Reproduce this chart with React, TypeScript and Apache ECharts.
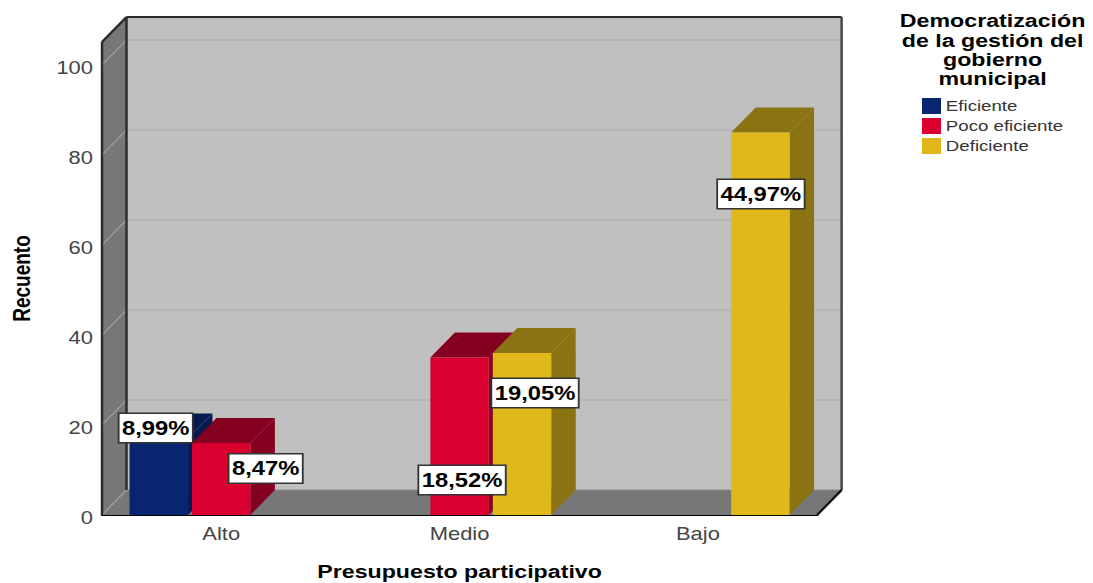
import React, { useEffect, useRef } from "react";
import * as echarts from "echarts";

const categories = ["Alto", "Medio", "Bajo"];
const seriesNames = ["Eficiente", "Poco eficiente", "Deficiente"];
const eficiente = [17, null, null];
const pocoEficiente = [16, 35, null];
const deficiente = [null, 36, 85];
const eficienteLabels = ["8,99%", "", ""];
const pocoEficienteLabels = ["8,47%", "18,52%", ""];
const deficienteLabels = ["", "19,05%", "44,97%"];
const yTicks = [0, 20, 40, 60, 80, 100];
const yTitle = "Recuento";
const xTitle = "Presupuesto participativo";
const legendTitle = "Democratización\nde la gestión del\ngobierno\nmunicipal";

const front = ["#07266f", "#d90030", "#e0b81c"];
const side = ["#041a50", "#850020", "#8a7312"];
const FONT = "'Liberation Sans', Arial, sans-serif";

// The reference is a horizontally stretched picture, so the chart is drawn narrower and stretched.
const S = 1.22;
const W = 1093 / S;
const px = (x: number) => x / S;
const DX = px(24.5);
const DY = 25;
const GRID = { left: px(102), right: W - px(817), top: 42, bottom: 583 - 515, outerBoundsMode: "none" };
const SLOT = 0.262;
const BAR = 0.245;

// label box centre relative to the bar's top centre, on screen [dx, dy]
const labelShift = [
  [[-3, -10.5], null, null],
  [[44.5, 25.5], [2.5, 122.5], null],
  [null, [13, 40], [0.5, 61.5]],
];

function renderWall(params: any, api: any) {
  const c = params.coordSys;
  const x0 = c.x, x1 = c.x + c.width, yTop = c.y;
  const y0 = api.coord([0, 0])[1];
  const dark = "#2a2a2a";
  const poly = (points: number[][], fill: string) => ({ type: "polygon", shape: { points }, style: { fill, stroke: "none" } });
  const line = (a: number[], b: number[], stroke: string, lineWidth: number) => ({
    type: "line",
    shape: { x1: a[0], y1: a[1], x2: b[0], y2: b[1] },
    style: { stroke, lineWidth },
  });
  const children: any[] = [
    poly([[x0 + DX, yTop - DY], [x1 + DX, yTop - DY], [x1 + DX, y0 - DY], [x0 + DX, y0 - DY]], "#c0c0c0"),
    poly([[x0, yTop], [x0 + DX, yTop - DY], [x0 + DX, y0 - DY], [x0, y0]], "#777777"),
    poly([[x0, y0], [x0 + DX, y0 - DY], [x1 + DX, y0 - DY], [x1, y0]], "#777777"),
  ];
  yTicks.forEach((t) => {
    const y = api.coord([0, t])[1];
    if (t > 0) children.push(line([x0 + DX, y - DY], [x1 + DX, y - DY], "#b2b2b2", 1.5));
    children.push(line([x0, y], [x0 + DX, y - DY], "#a6a6a6", 1));
  });
  children.push(
    line([x0 + DX, y0 - DY], [x1 + DX, y0 - DY], "#8a8a8a", 1),
    line([x0, yTop], [x0, y0], dark, 2),
    line([x0, yTop], [x0 + DX, yTop - DY], dark, 2),
    line([x0 + DX, yTop - DY], [x0 + DX, y0 - DY], dark, 2),
    line([x0 + DX, yTop - DY], [x1 + DX, yTop - DY], dark, 2),
    line([x1 + DX, yTop - DY], [x1 + DX, y0 - DY], "#444444", 2),
    line([x1, y0], [x1 + DX, y0 - DY], "#111111", 2),
  );
  return { type: "group", children };
}

function barCentre(api: any, s: number, cat: number, value: number) {
  const band = api.size([1, 0])[0];
  const p = api.coord([cat, value]);
  return { x: p[0] + (s - 1) * SLOT * band, y: p[1], w: BAR * band, base: api.coord([cat, 0])[1] };
}

const renderBar = (s: number) => (_: any, api: any) => {
  const b = barCentre(api, s, api.value(0), api.value(1));
  const l = b.x - b.w / 2, r = b.x + b.w / 2;
  return {
    type: "group",
    children: [
      { type: "polygon", shape: { points: [[r, b.y], [r + DX, b.y - DY], [r + DX, b.base - DY], [r, b.base]] }, style: { fill: side[s] } },
      { type: "polygon", shape: { points: [[l, b.y], [l + DX, b.y - DY], [r + DX, b.y - DY], [r, b.y]] }, style: { fill: side[s] } },
      { type: "rect", shape: { x: l, y: b.y, width: b.w, height: b.base - b.y }, style: { fill: front[s] } },
    ],
  };
};

function renderLabel(_: any, api: any) {
  const s = api.value(2), cat = api.value(0);
  const b = barCentre(api, s, cat, api.value(1));
  const shift = (labelShift[s][cat] as number[]) || [0, 0];
  return {
    type: "text",
    x: b.x + px(shift[0]),
    y: b.y + shift[1],
    style: {
      text: allLabels[s][cat],
      fill: "#000",
      font: `bold 19.5px ${FONT}`,
      align: "center",
      verticalAlign: "middle",
      backgroundColor: "#fff",
      borderColor: "#333",
      borderWidth: 1.5,
      padding: [4, 2, 4, 2],
    },
  };
}

const allValues = [eficiente, pocoEficiente, deficiente];
const allLabels = [eficienteLabels, pocoEficienteLabels, deficienteLabels];
const rows = (values: (number | null)[]) =>
  values.map((v, i) => (v === null ? null : [i, v])).filter(Boolean);

export default function App() {
  const ref = useRef<HTMLDivElement>(null);
  useEffect(() => {
    const chart = echarts.init(ref.current!, undefined, { renderer: "svg" });
    const labelRows: any[] = [];
    allValues.forEach((vals, s) =>
      vals.forEach((v, i) => {
        if (v !== null) labelRows.push([i, v, s]);
      }),
    );
    chart.setOption({
      animation: false,
      backgroundColor: "#fff",
      grid: GRID,
      title: {
        text: legendTitle,
        left: px(986.5),
        top: 6,
        textAlign: "center",
        textStyle: { fontFamily: FONT, fontSize: 19, fontWeight: "bold", color: "#000", lineHeight: 19.3 },
      },
      legend: {
        data: seriesNames,
        orient: "vertical",
        left: px(922),
        top: 95,
        padding: 0,
        itemWidth: px(19),
        itemHeight: 16,
        itemGap: -2,
        selectedMode: false,
        icon: "rect",
        textStyle: { fontFamily: FONT, fontSize: 15.3, lineHeight: 16, color: "#333", padding: [6, 0, 0, -1] },
      },
      xAxis: {
        type: "category",
        data: categories,
        name: xTitle,
        nameLocation: "middle",
        nameGap: 47,
        nameTextStyle: { fontFamily: FONT, fontSize: 19, fontWeight: "bold", color: "#000" },
        axisTick: { show: false },
        axisLine: { onZero: false, lineStyle: { color: "#000", width: 2 } },
        axisLabel: { fontFamily: FONT, fontSize: 18, color: "#444", margin: 10 },
      },
      yAxis: {
        type: "value",
        min: 0,
        max: (515 - 42) / 4.5,
        interval: 20,
        name: yTitle,
        nameLocation: "middle",
        nameGap: px(69),
        nameRotate: 90,
        nameTextStyle: { fontFamily: FONT, fontSize: 19, fontWeight: "bold", color: "#000" },
        splitLine: { show: false },
        axisTick: { show: false },
        axisLine: { show: false },
        axisLabel: {
          fontFamily: FONT,
          fontSize: 18,
          color: "#444",
          margin: px(9),
          showMaxLabel: false,
          formatter: "{t|{value}}",
          rich: { t: { fontFamily: FONT, fontSize: 18, color: "#444", padding: [5, 0, 0, 0] } },
        },
      },
      series: [
        { name: "wall", type: "custom", z: 1, silent: true, data: [[0, 0]], renderItem: renderWall },
        ...seriesNames.map((name, s) => ({
          name,
          type: "custom",
          z: 2,
          itemStyle: { color: front[s] },
          data: rows(allValues[s]),
          renderItem: renderBar(s),
        })),
        { name: "labels", type: "custom", z: 3, data: labelRows, renderItem: renderLabel },
      ],
    });
    return () => chart.dispose();
  }, []);
  return (
    <div style={{ position: "absolute", left: 0, top: 0, width: 1093, height: 583, overflow: "hidden", background: "#fff" }}>
      <div
        ref={ref}
        style={{ width: W, height: 583, transform: `scaleX(${S})`, transformOrigin: "0 0" }}
      />
    </div>
  );
}
